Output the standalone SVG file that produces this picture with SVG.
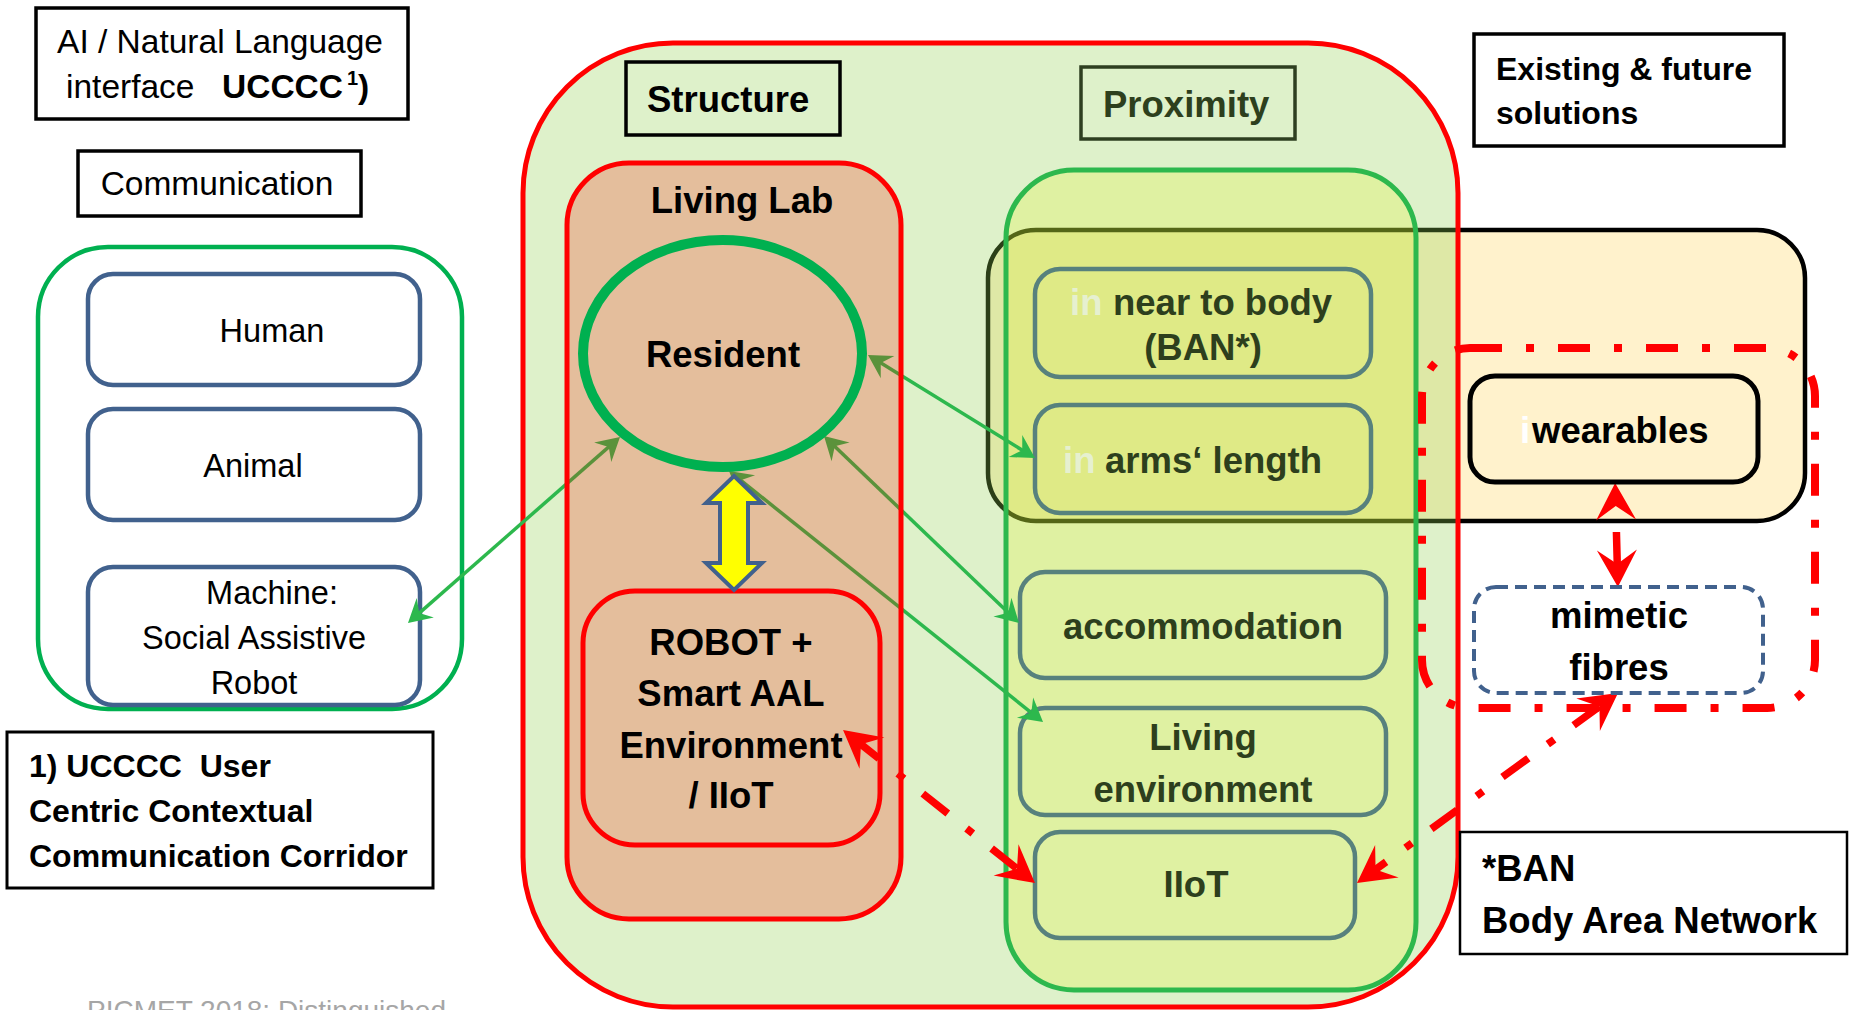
<svg xmlns="http://www.w3.org/2000/svg" width="1849" height="1010" viewBox="0 0 1849 1010">
  <style>
    text { font-family: "Liberation Sans", Arial, sans-serif; fill: #000; }
    .reg { font-size: 33.5px; }
    .item { font-size: 32.5px; }
    .b32 { font-size: 32px; font-weight: bold; }
    .b36 { font-size: 36.5px; font-weight: bold; }
    .mid { text-anchor: middle; }
    .prox { fill: #2D3F1D; }
    .faint { fill: #E6F0D0; }
    .label { fill: none; stroke: #000; stroke-width: 3.5; }
    .who { fill: none; stroke: #41618D; stroke-width: 4.5; }
    .zone { fill: none; stroke: #57817D; stroke-width: 4.5; }
    .red-edge { stroke: #FF0000; stroke-width: 5; }
    .link { fill: none; stroke: #2DB84D; stroke-width: 3.5; marker-start: url(#ah-green); marker-end: url(#ah-green); }
    .wireless { fill: none; stroke: #FF0000; stroke-width: 7.5; stroke-dasharray: 32 24 8 24; marker-start: url(#ah-red); marker-end: url(#ah-red); }
  </style>
  <defs>
    <marker id="ah-green" markerUnits="userSpaceOnUse" viewBox="-20 -20 40 40" markerWidth="40" markerHeight="40" refX="0" refY="0" orient="auto-start-reverse" overflow="visible">
      <path d="M10,0 L-13,-13 L-5,0 L-13,13 Z" fill="#2DB84D"/>
    </marker>
    <marker id="ah-red" markerUnits="userSpaceOnUse" viewBox="-30 -30 60 60" markerWidth="60" markerHeight="60" refX="0" refY="0" orient="auto-start-reverse" overflow="visible">
      <path d="M14,0 L-23,-20 L-9,0 L-23,20 Z" fill="#FF0000"/>
    </marker>
  </defs>

  <rect width="1849" height="1010" fill="#FFFFFF"/>

  <!-- left column: interface and communication partners -->
  <g id="ai-interface">
    <rect class="label" x="36" y="8" width="372" height="111"/>
    <text class="reg mid" x="220" y="53">AI / Natural Language</text>
    <text class="reg" x="66" y="98">interface</text>
    <text class="reg" x="222" y="98" font-weight="bold">UCCCC<tspan font-size="20" dx="4" dy="-13">1</tspan><tspan dy="13">)</tspan></text>
  </g>

  <g id="communication-label">
    <rect class="label" x="78" y="151" width="283" height="65"/>
    <text class="reg mid" x="217" y="195">Communication</text>
  </g>

  <g id="communication">
    <rect x="38" y="247" width="424" height="462" rx="70" fill="none" stroke="#00B050" stroke-width="4.5"/>
  </g>
  <g id="human">
    <rect class="who" x="88" y="274" width="332" height="111" rx="25"/>
    <text class="item mid" x="272" y="342">Human</text>
  </g>
  <g id="animal">
    <rect class="who" x="88" y="409" width="332" height="111" rx="25"/>
    <text class="item mid" x="253" y="477">Animal</text>
  </g>
  <g id="machine">
    <rect class="who" x="88" y="567" width="332" height="138" rx="25"/>
    <text class="item mid" x="272" y="604">Machine:</text>
    <text class="item mid" x="254" y="649">Social Assistive</text>
    <text class="item mid" x="254" y="694">Robot</text>
  </g>

  <g id="footnote-ucccc">
    <rect x="7" y="732" width="426" height="156" fill="none" stroke="#000" stroke-width="3"/>
    <text class="b32" x="29" y="777" xml:space="preserve">1) UCCCC  User</text>
    <text class="b32" x="29" y="822">Centric Contextual</text>
    <text class="b32" x="29" y="867">Communication Corridor</text>
  </g>

  <text x="87" y="1020" font-size="28" fill="#A6A6A6" style="fill:#A6A6A6">PICMET 2018: Distinguished</text>

  <!-- existing & future solutions band (behind the translucent context area) -->
  <g id="existing-solutions">
    <rect x="988" y="230" width="817" height="291" rx="48" fill="#FFF2CC" stroke="#000" stroke-width="4.5"/>
  </g>

  <g id="existing-label">
    <rect class="label" x="1474" y="34" width="310" height="112" fill="#FFFFFF"/>
    <text class="b32" x="1496" y="80">Existing &amp; future</text>
    <text class="b32" x="1496" y="124">solutions</text>
  </g>

  <!-- context area: structure + proximity -->
  <g id="context">
    <rect x="523" y="43" width="935" height="964" rx="150" fill="#92D050" fill-opacity="0.3" stroke="#FF0000" stroke-width="5"/>
  </g>

  <g id="structure-label">
    <rect class="label" x="626" y="62" width="214" height="73"/>
    <text class="b36" x="647" y="112">Structure</text>
  </g>

  <g id="proximity">
    <rect x="1006" y="170" width="410" height="820" rx="68" fill="#E3F315" fill-opacity="0.22" stroke="#2DB84D" stroke-width="5"/>
  </g>
  <g id="proximity-label">
    <rect x="1081" y="67" width="214" height="72" fill="none" stroke="#2E3F20" stroke-width="3.5"/>
    <text class="b36 prox" x="1103" y="117">Proximity</text>
  </g>

  <g id="near-to-body">
    <rect class="zone" x="1035" y="269" width="336" height="108" rx="25"/>
    <text class="b36 faint" x="1070" y="315">in</text>
    <text class="b36 prox" x="1113" y="315">near to body</text>
    <text class="b36 prox mid" x="1203" y="360">(BAN*)</text>
  </g>
  <g id="arms-length">
    <rect class="zone" x="1035" y="405" width="336" height="108" rx="25"/>
    <text class="b36 faint" x="1063" y="473">in</text>
    <text class="b36 prox" x="1105" y="473">arms‘ length</text>
  </g>
  <g id="accommodation">
    <rect class="zone" x="1020" y="572" width="366" height="106" rx="25"/>
    <text class="b36 prox mid" x="1203" y="639">accommodation</text>
  </g>
  <g id="living-environment">
    <rect class="zone" x="1020" y="708" width="366" height="107" rx="25"/>
    <text class="b36 prox mid" x="1203" y="750">Living</text>
    <text class="b36 prox mid" x="1203" y="802">environment</text>
  </g>
  <g id="iiot">
    <rect class="zone" x="1035" y="832" width="320" height="106" rx="25"/>
    <text class="b36 prox mid" x="1196" y="897">IIoT</text>
  </g>

  <!-- connectors -->
  <g id="connectors">
    <path class="link" d="M415.5,616.4 L612.5,443.6"/>
    <path class="link" d="M876.5,360.3 L1026.5,452.8"/>
    <path class="link" d="M831.2,442.9 L1011.8,616.1"/>
    <path class="link" d="M736.8,477.2 L1035.2,715.8"/>
    <path class="wireless" d="M854,738.7 L1024,874.3"/>
    <path class="wireless" d="M1368.3,874.8 L1606.7,701.2" stroke-dashoffset="10"/>
    <path class="wireless" d="M1615.5,497 L1617.5,573" style="stroke-dasharray: 0 35 60"/>
  </g>

  <!-- living lab drawn over the links, tinting them -->
  <g id="living-lab">
    <rect class="red-edge" x="567" y="163" width="334" height="756" rx="62" fill="#F91100" fill-opacity="0.226"/>
    <text class="b36 mid" x="742" y="213">Living Lab</text>
  </g>

  <g id="resident">
    <ellipse cx="722.5" cy="353.5" rx="139.5" ry="113.5" fill="none" stroke="#00B050" stroke-width="10"/>
    <text class="b36 mid" x="723" y="367">Resident</text>
  </g>

  <g id="robot-smart-aal">
    <rect class="red-edge" x="583" y="591" width="297" height="254" rx="52" fill="none"/>
    <text class="b36 mid" x="731" y="655">ROBOT +</text>
    <text class="b36 mid" x="731" y="706">Smart AAL</text>
    <text class="b36 mid" x="731" y="758">Environment</text>
    <text class="b36 mid" x="731" y="808">/ IIoT</text>
  </g>

  <g id="resident-robot-link">
    <polygon points="734,476 762,503 748,503 748,563 762,563 734,590 706,563 720,563 720,503 706,503" fill="#FFFF00" stroke="#41618D" stroke-width="4"/>
  </g>

  <!-- body-worn solutions -->
  <g id="body-worn">
    <rect x="1422" y="348" width="393" height="360" rx="48" fill="none" stroke="#FF0000" stroke-width="8" stroke-dasharray="32 24 8 24"/>
  </g>
  <g id="wearables">
    <rect x="1470" y="376" width="288" height="106" rx="25" fill="none" stroke="#000" stroke-width="5"/>
    <text class="b36" x="1520" y="443" style="fill:#FFFFFF">i</text>
    <text class="b36" x="1532" y="443">wearables</text>
  </g>
  <g id="mimetic-fibres">
    <rect x="1474" y="587" width="289" height="106" rx="22" fill="none" stroke="#41618D" stroke-width="4" stroke-dasharray="12 7"/>
    <text class="b36 mid" x="1619" y="628">mimetic</text>
    <text class="b36 mid" x="1619" y="680">fibres</text>
  </g>

  <g id="ban-note">
    <rect x="1460" y="832" width="387" height="122" fill="#FFFFFF" stroke="#000" stroke-width="2.5"/>
    <text class="b36" x="1482" y="881">*BAN</text>
    <text class="b36" x="1482" y="933">Body Area Network</text>
  </g>
</svg>
